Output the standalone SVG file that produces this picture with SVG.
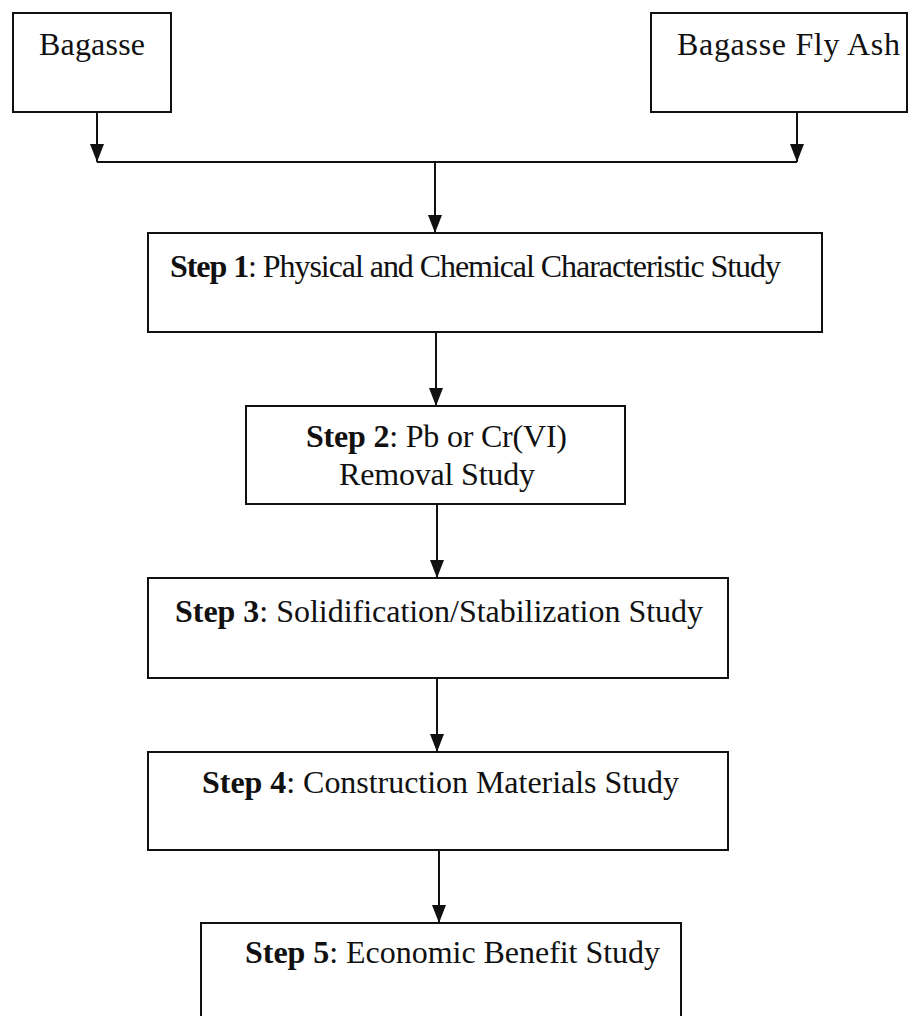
<svg xmlns="http://www.w3.org/2000/svg" width="908" height="1016" viewBox="0 0 908 1016">
<style>
.box{fill:#fff;stroke:#111;stroke-width:2}
.t{font-family:"Liberation Serif","Times New Roman",serif;font-size:32px;fill:#111}
.b{font-weight:bold}
.ln{fill:none;stroke:#111;stroke-width:2}
</style>
<defs>
<marker id="ah" viewBox="0 0 18 14" refX="18" refY="7" markerWidth="18" markerHeight="14" markerUnits="userSpaceOnUse" orient="auto">
<path d="M0,0 L18,7 L0,14 Z" fill="#111"/>
</marker>
</defs>
<rect width="908" height="1016" fill="#fff"/>
<g id="connectors">
<line class="ln" x1="97" y1="112" x2="97" y2="162" marker-end="url(#ah)"/>
<line class="ln" x1="797" y1="112" x2="797" y2="162" marker-end="url(#ah)"/>
<line class="ln" x1="97" y1="162" x2="797" y2="162"/>
<line class="ln" x1="435" y1="162" x2="435" y2="233" marker-end="url(#ah)"/>
<line class="ln" x1="436" y1="332" x2="436" y2="406" marker-end="url(#ah)"/>
<line class="ln" x1="437" y1="504" x2="437" y2="578" marker-end="url(#ah)"/>
<line class="ln" x1="437" y1="678" x2="437" y2="752" marker-end="url(#ah)"/>
<line class="ln" x1="439" y1="850" x2="439" y2="923" marker-end="url(#ah)"/>
</g>
<g id="bagasse">
<rect class="box" x="13" y="13" width="158" height="99"/>
<text class="t" x="39" y="55" textLength="106" lengthAdjust="spacing">Bagasse</text>
</g>
<g id="flyash">
<rect class="box" x="651" y="13" width="256" height="99"/>
<text class="t" x="677" y="55" textLength="223" lengthAdjust="spacing">Bagasse Fly Ash</text>
</g>
<g id="step1">
<rect class="box" x="148" y="233" width="674" height="99"/>
<text class="t" x="170" y="277" textLength="611" lengthAdjust="spacing"><tspan class="b">Step 1</tspan>: Physical and Chemical Characteristic Study</text>
</g>
<g id="step2">
<rect class="box" x="246" y="406" width="379" height="98"/>
<text class="t" x="306" y="447" textLength="261" lengthAdjust="spacing"><tspan class="b">Step 2</tspan>: Pb or Cr(VI)</text>
<text class="t" x="339" y="485" textLength="196" lengthAdjust="spacing">Removal Study</text>
</g>
<g id="step3">
<rect class="box" x="148" y="578" width="580" height="100"/>
<text class="t" x="175" y="622" textLength="528" lengthAdjust="spacing"><tspan class="b">Step 3</tspan>: Solidification/Stabilization Study</text>
</g>
<g id="step4">
<rect class="box" x="148" y="752" width="580" height="98"/>
<text class="t" x="202" y="793" textLength="477" lengthAdjust="spacing"><tspan class="b">Step 4</tspan>: Construction Materials Study</text>
</g>
<g id="step5">
<rect class="box" x="201" y="923" width="480" height="110"/>
<text class="t" x="245" y="963" textLength="415" lengthAdjust="spacing"><tspan class="b">Step 5</tspan>: Economic Benefit Study</text>
</g>
</svg>
